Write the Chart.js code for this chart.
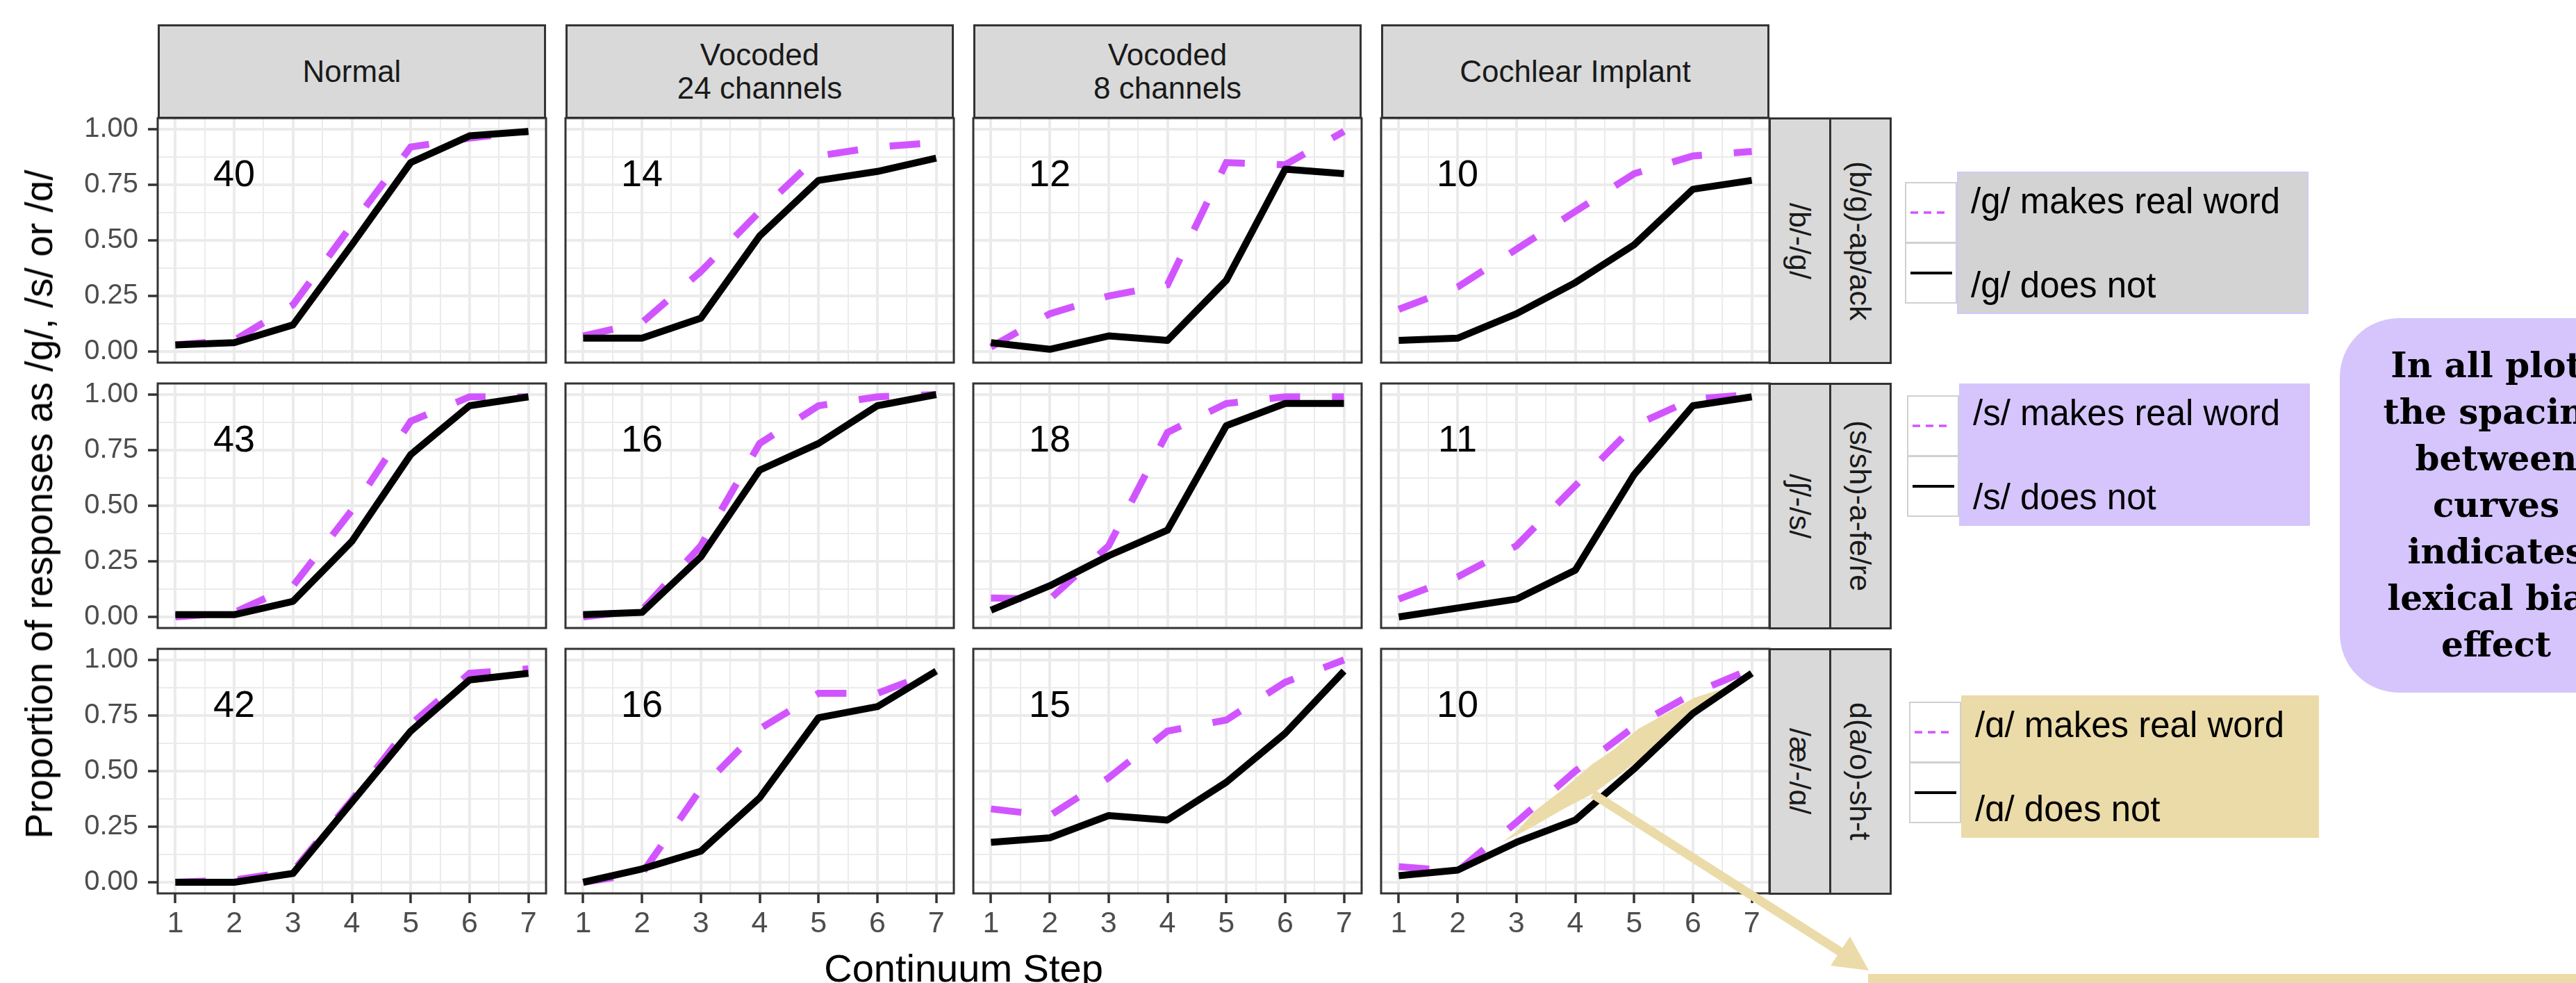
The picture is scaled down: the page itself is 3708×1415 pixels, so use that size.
<!DOCTYPE html>
<html lang="en">
<head>
<meta charset="utf-8">
<title>Lexical bias by listening condition</title>
<script src="https://cdn.jsdelivr.net/npm/chart.js@4.4.1/dist/chart.umd.min.js"></script>
<style>
  html, body { margin: 0; padding: 0; background: #ffffff; }
  body { position: relative; width: 3708px; height: 1415px; overflow: hidden;
         font-family: "Liberation Sans", Arial, Helvetica, sans-serif; }
  canvas { position: absolute; }
  .strip { position: absolute; box-sizing: border-box; background: #d9d9d9; border: 3px solid #333333;
           color: #1a1a1a; font-size: 44px; line-height: 48px; white-space: pre-line;
           display: flex; align-items: center; justify-content: center; text-align: center; }
  .strip.side { writing-mode: vertical-rl; font-size: 43px; }
  .title { position: absolute; color: #000000; white-space: nowrap; }
  .keybox { position: absolute; box-sizing: border-box; background: #ffffff; border: 2px solid #d0d0d0; }
  .labelbox { position: absolute; box-sizing: border-box; }
  .ltext { position: absolute; font-size: 51px; line-height: 51px; color: #000000; white-space: nowrap; }
  #callout { position: absolute; left: 3368px; top: 458px; width: 450px; height: 539px; box-sizing: border-box;
             padding-top: 34px; border-radius: 85px; background: #d5c5fc; color: #000000;
             font-family: "DejaVu Serif", "Liberation Serif", serif; font-weight: bold;
             font-size: 50px; line-height: 67px; text-align: center; }
  #overlay { position: absolute; left: 0; top: 0; z-index: 5; }
</style>
</head>
<body>
<script>
// continuum steps and facet labels
const steps = [1, 2, 3, 4, 5, 6, 7];
const conditions = ['Normal', 'Vocoded\n24 channels', 'Vocoded\n8 channels', 'Cochlear Implant'];
const contrasts = ['/b/-/g/', '/ʃ/-/s/', '/æ/-/ɑ/'];
const frames = ['(b/g)-ap/ack', '(s/sh)-a-fe/re', 'd(a/o)-sh-t'];

// proportion of /g/ responses (one row per condition)
const bgRealWord = [
  [0.03, 0.05, 0.21, 0.57, 0.92, 0.96, 0.99],
  [0.07, 0.13, 0.36, 0.63, 0.88, 0.92, 0.94],
  [0.02, 0.17, 0.25, 0.30, 0.85, 0.84, 0.99],
  [0.19, 0.29, 0.46, 0.63, 0.80, 0.88, 0.90]
];
const bgNonWord = [
  [0.03, 0.04, 0.12, 0.48, 0.85, 0.97, 0.99],
  [0.06, 0.06, 0.15, 0.52, 0.77, 0.81, 0.87],
  [0.04, 0.01, 0.07, 0.05, 0.32, 0.82, 0.80],
  [0.05, 0.06, 0.17, 0.31, 0.48, 0.73, 0.77]
];
// proportion of /s/ responses
const ssRealWord = [
  [0.00, 0.02, 0.14, 0.48, 0.88, 0.99, 0.99],
  [0.00, 0.03, 0.32, 0.78, 0.95, 0.99, 1.00],
  [0.085, 0.08, 0.32, 0.83, 0.96, 0.99, 0.99],
  [0.08, 0.18, 0.32, 0.59, 0.86, 0.98, 1.00]
];
const ssNonWord = [
  [0.01, 0.01, 0.07, 0.34, 0.73, 0.95, 0.99],
  [0.01, 0.02, 0.27, 0.66, 0.78, 0.95, 1.00],
  [0.03, 0.14, 0.275, 0.39, 0.86, 0.96, 0.96],
  [0.00, 0.04, 0.08, 0.21, 0.64, 0.95, 0.99]
];
// proportion of /ɑ/ responses
const aoRealWord = [
  [0.00, 0.01, 0.05, 0.37, 0.71, 0.94, 0.96],
  [0.00, 0.04, 0.42, 0.69, 0.85, 0.85, 0.95],
  [0.33, 0.30, 0.47, 0.68, 0.73, 0.90, 1.00],
  [0.07, 0.05, 0.27, 0.50, 0.70, 0.85, 0.96]
];
const aoNonWord = [
  [0.00, 0.00, 0.04, 0.36, 0.68, 0.91, 0.94],
  [0.00, 0.06, 0.14, 0.38, 0.74, 0.79, 0.95],
  [0.18, 0.20, 0.30, 0.28, 0.45, 0.67, 0.95],
  [0.03, 0.055, 0.18, 0.28, 0.51, 0.76, 0.94]
];
// number of listeners per panel
const listeners = [
  [40, 14, 12, 10],
  [43, 16, 18, 11],
  [42, 16, 15, 10]
];

// axis breaks (major + minor) and tick labels
const xBreaks = [1, 1.5, 2, 2.5, 3, 3.5, 4, 4.5, 5, 5.5, 6, 6.5, 7];
const xTickLabels = ['1', '2', '3', '4', '5', '6', '7'];
const yBreaks = [0, 0.125, 0.25, 0.375, 0.5, 0.625, 0.75, 0.875, 1];
const yTickLabels = ['0.00', '0.25', '0.50', '0.75', '1.00'];

// legend text per row
const legendLabels = [
  ['/g/ makes real word', '/g/ does not'],
  ['/s/ makes real word', '/s/ does not'],
  ['/ɑ/ makes real word', '/ɑ/ does not']
];

// highlighted gap between the curves (Cochlear Implant, /æ/-/ɑ/)
const highlightX = [2.76, 3.01, 3.31, 3.80, 4.28, 4.67, 5.07, 5.62, 6.02, 6.50, 6.05, 5.38, 4.83, 4.31, 3.80, 3.21, 2.76];
const highlightY = [0.18, 0.23, 0.32, 0.42, 0.53, 0.60, 0.69, 0.77, 0.83, 0.87, 0.78, 0.61, 0.50, 0.40, 0.33, 0.24, 0.18];

const realWord = [bgRealWord, ssRealWord, aoRealWord];
const nonWord = [bgNonWord, ssNonWord, aoNonWord];

// layout
const MAGENTA = '#d155ff';
const TAN = '#ebdba8';
const LAVENDER = '#d5c5fc';
const FONT = '"Liberation Sans", Arial, Helvetica, sans-serif';
const PANEL_W = 559, PANEL_H = 352, PAD = 50, Y_AXIS_W = 127, X_AXIS_H = 92;
const colLeft = [227, 814, 1401, 1988];
const rowTop = [170, 552, 934];

const isMajorX = v => Math.abs(v - Math.round(v)) < 1e-6;
const isMajorY = v => Math.abs(v * 4 - Math.round(v * 4)) < 1e-6;

const panelFrame = {
  id: 'panelFrame',
  afterDraw(chart) {
    const a = chart.chartArea, ctx = chart.ctx;
    ctx.save();
    ctx.strokeStyle = '#333333';
    ctx.lineWidth = 3;
    ctx.strokeRect(a.left, a.top, a.right - a.left, a.bottom - a.top);
    ctx.restore();
  }
};

const countLabel = {
  id: 'countLabel',
  afterDatasetsDraw(chart, args, opts) {
    const ctx = chart.ctx;
    ctx.save();
    ctx.font = '54px ' + FONT;
    ctx.fillStyle = '#000000';
    ctx.textAlign = 'center';
    ctx.textBaseline = 'middle';
    ctx.fillText(String(opts.text), chart.scales.x.getPixelForValue(2), chart.scales.y.getPixelForValue(0.79));
    ctx.restore();
  }
};

function toPoints(values) {
  return values.map((v, i) => ({ x: steps[i], y: v }));
}

function makePanel(r, c) {
  const showY = c === 0, showX = r === 2;
  const canvas = document.createElement('canvas');
  canvas.width = PANEL_W + 2 * PAD + (showY ? Y_AXIS_W : 0);
  canvas.height = PANEL_H + 2 * PAD + (showX ? X_AXIS_H : 0);
  canvas.style.left = (colLeft[c] - PAD - (showY ? Y_AXIS_W : 0)) + 'px';
  canvas.style.top = (rowTop[r] - PAD) + 'px';
  document.body.appendChild(canvas);

  const datasets = [{
    label: legendLabels[r][1],
    data: toPoints(nonWord[r][c]),
    borderColor: '#000000',
    borderWidth: 10,
    borderJoinStyle: 'round',
    borderCapStyle: 'butt',
    fill: false
  }];
  if (r === 2 && c === 3) {
    datasets.push({
      label: 'gap',
      data: highlightX.map((x, i) => ({ x: x, y: highlightY[i] })),
      borderColor: 'rgba(0,0,0,0)',
      borderWidth: 1,
      backgroundColor: TAN,
      fill: 'shape'
    });
  }
  datasets.push({
    label: legendLabels[r][0],
    data: toPoints(realWord[r][c]),
    borderColor: MAGENTA,
    borderWidth: 10,
    borderDash: [44, 46],
    borderCapStyle: 'butt',
    fill: false
  });

  new Chart(canvas, {
    type: 'line',
    data: { datasets: datasets },
    options: {
      responsive: false,
      animation: false,
      events: [],
      layout: { padding: PAD },
      elements: { point: { radius: 0 }, line: { tension: 0 } },
      plugins: {
        legend: { display: false },
        tooltip: { enabled: false },
        countLabel: { text: listeners[r][c] }
      },
      scales: {
        x: {
          type: 'linear', min: 0.7, max: 7.3,
          afterBuildTicks: s => { s.ticks = xBreaks.map(v => ({ value: v })); },
          afterFit: s => { s.height = showX ? X_AXIS_H : 0; },
          border: { display: false },
          grid: {
            color: '#ebebeb',
            lineWidth: ctx => (ctx.tick && isMajorX(ctx.tick.value)) ? 4 : 2,
            drawTicks: showX,
            tickLength: 14,
            tickWidth: 3.5,
            tickColor: ctx => (ctx.tick && isMajorX(ctx.tick.value)) ? '#333333' : 'rgba(0,0,0,0)'
          },
          ticks: {
            display: showX, autoSkip: false, maxRotation: 0, minRotation: 0, padding: 4,
            color: '#4d4d4d', font: { family: FONT, size: 43 },
            callback: v => isMajorX(v) ? xTickLabels[Math.round(v) - 1] : ''
          }
        },
        y: {
          type: 'linear', min: -0.05, max: 1.05,
          afterBuildTicks: s => { s.ticks = yBreaks.map(v => ({ value: v })); },
          afterFit: s => { s.width = showY ? Y_AXIS_W : 0; },
          border: { display: false },
          grid: {
            color: '#ebebeb',
            lineWidth: ctx => (ctx.tick && isMajorY(ctx.tick.value)) ? 4 : 2,
            drawTicks: showY,
            tickLength: 14,
            tickWidth: 3.5,
            tickColor: ctx => (ctx.tick && isMajorY(ctx.tick.value)) ? '#333333' : 'rgba(0,0,0,0)'
          },
          ticks: {
            display: showY, autoSkip: false, padding: 14,
            color: '#4d4d4d', font: { family: FONT, size: 40 },
            callback: v => isMajorY(v) ? yTickLabels[Math.round(v * 4)] : ''
          }
        }
      }
    },
    plugins: [panelFrame, countLabel]
  });
}

function addDiv(cls, text, css) {
  const d = document.createElement('div');
  d.className = cls;
  if (text) d.textContent = text;
  Object.assign(d.style, css);
  document.body.appendChild(d);
  return d;
}

// facet strips
conditions.forEach((name, c) => {
  addDiv('strip', name, { left: colLeft[c] + 'px', top: '35px', width: PANEL_W + 'px', height: '136px' });
});
const rightEdge = colLeft[3] + PANEL_W;
contrasts.forEach((name, r) => {
  addDiv('strip side', name, { left: (rightEdge - 1) + 'px', top: (rowTop[r] - 1) + 'px', width: '90px', height: (PANEL_H + 3) + 'px' });
  addDiv('strip side', frames[r], { left: (rightEdge + 86) + 'px', top: (rowTop[r] - 1) + 'px', width: '90px', height: (PANEL_H + 3) + 'px' });
});

// panels
for (let r = 0; r < 3; r++) {
  for (let c = 0; c < 4; c++) makePanel(r, c);
}

// axis titles
addDiv('title', 'Proportion of responses as /g/, /s/ or /ɑ/', {
  left: '56px', top: '726px', fontSize: '55px', lineHeight: '60px',
  transform: 'translate(-50%, -50%) rotate(-90deg)'
});
addDiv('title', 'Continuum Step', {
  left: '1387px', top: '1366px', fontSize: '56px', lineHeight: '56px', transform: 'translateX(-50%)'
});

// legends, one per row
const legendPos = [
  { x: 2742, keyTop: 262, boxTop: 247, boxRight: 3323, fill: '#d3d3d3', edge: '2px solid ' + LAVENDER },
  { x: 2745, keyTop: 569, boxTop: 552, boxRight: 3325, fill: LAVENDER, edge: 'none' },
  { x: 2748, keyTop: 1010, boxTop: 1001, boxRight: 3338, fill: TAN, edge: 'none' }
];
legendPos.forEach((p, r) => {
  const keyW = 75, keyH = 88;
  const k1 = addDiv('keybox', '', { left: p.x + 'px', top: p.keyTop + 'px', width: keyW + 'px', height: keyH + 'px' });
  const k2 = addDiv('keybox', '', { left: p.x + 'px', top: (p.keyTop + keyH - 1) + 'px', width: keyW + 'px', height: keyH + 'px' });
  k1.innerHTML = '<svg width="71" height="84" style="position:absolute;left:0;top:0"><line x1="6" y1="42" x2="56" y2="42" stroke="' + MAGENTA + '" stroke-width="3.5" stroke-dasharray="11 8"/></svg>';
  k2.innerHTML = '<svg width="71" height="84" style="position:absolute;left:0;top:0"><line x1="6" y1="42" x2="66" y2="42" stroke="#000" stroke-width="4"/></svg>';
  const boxLeft = p.x + keyW;
  addDiv('labelbox', '', { left: boxLeft + 'px', top: p.boxTop + 'px', width: (p.boxRight - boxLeft) + 'px', height: '205px', background: p.fill, border: p.edge });
  addDiv('ltext', legendLabels[r][0], { left: (boxLeft + 20) + 'px', top: (p.boxTop + 60 - 43) + 'px' });
  addDiv('ltext', legendLabels[r][1], { left: (boxLeft + 20) + 'px', top: (p.boxTop + 181 - 43) + 'px' });
});

// callout
const callout = addDiv('', '', {});
callout.id = 'callout';
callout.innerHTML = 'In all plots<br>the spacing<br>between<br>curves<br>indicates<br>lexical bias<br>effect';

// arrow from the highlighted gap
const overlay = document.createElementNS('http://www.w3.org/2000/svg', 'svg');
overlay.setAttribute('id', 'overlay');
overlay.setAttribute('width', '3708');
overlay.setAttribute('height', '1415');
overlay.innerHTML =
  '<line x1="2293" y1="1143" x2="2652" y2="1372" stroke="' + TAN + '" stroke-width="13"/>' +
  '<polygon points="2690,1397 2635,1390 2663,1348" fill="' + TAN + '"/>' +
  '<rect x="2689" y="1402" width="1019" height="13" fill="' + TAN + '"/>';
document.body.appendChild(overlay);
</script>
</body>
</html>
